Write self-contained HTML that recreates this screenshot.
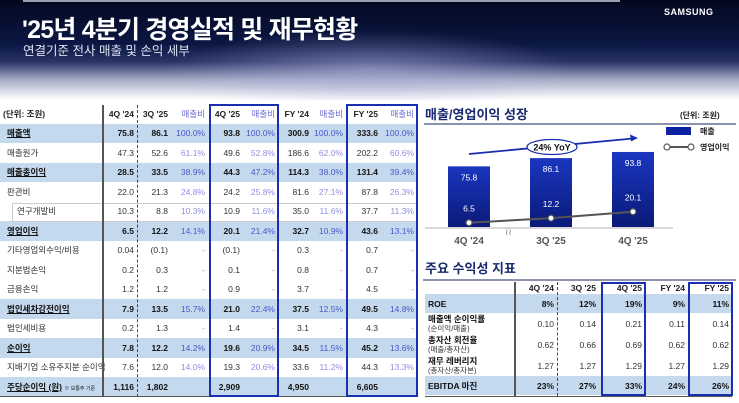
<!DOCTYPE html>
<html><head><meta charset="utf-8">
<style>
*{margin:0;padding:0;box-sizing:border-box}
body{width:739px;height:403px;overflow:hidden;background:#fff;font-family:"Liberation Sans","Noto Sans CJK KR",sans-serif;position:relative}
.hdr{position:absolute;left:0;top:0;width:739px;height:100px;background:
radial-gradient(ellipse 200px 40px at 370px 70px,rgba(170,175,220,.55),rgba(0,0,0,0)),
linear-gradient(to bottom,#040820 0,#0b1744 45%,#2a3566 62%,#a8adc8 80%,#fff 100%)}
.t1{position:absolute;left:22px;top:10px;color:#fff;font-size:25px;font-weight:bold;letter-spacing:-0.8px}
.t2{position:absolute;left:23px;top:40px;color:#dfe2f0;font-size:12.5px}
.logo{position:absolute;left:664px;top:7px;color:#fff;font-size:9px;font-weight:bold;letter-spacing:0.5px}
table{border-collapse:collapse;table-layout:fixed;position:absolute}
td{font-size:8.5px;color:#333;text-align:right;padding-right:3px;white-space:nowrap;overflow:visible}
td.l{text-align:left;padding-left:7px}
tr.h td{background:#c5d9ee;font-weight:bold;color:#111}
tr.h td.r{color:#4658c8;font-weight:normal}
td.r{color:#8f8fe0}
tr.hd td{font-weight:bold;color:#222;font-size:8.5px}
tr.hd td.r{color:#6a6ad0;font-weight:normal}
.box{position:absolute;border:2px solid #1a2fb0}
.ul{text-decoration:underline}
</style></head><body>
<div class="hdr">
<div style="position:absolute;left:23px;top:0;width:597px;height:2px;background:#9aa0b0"></div>
<div class="t1">'25년 4분기 경영실적 및 재무현황</div>
<div class="t2">연결기준 전사 매출 및 손익 세부</div>
<div class="logo">SAMSUNG</div>
</div>

<table style="left:0;top:105px;width:417px">
<colgroup><col style="width:103px"><col style="width:34px"><col style="width:34px"><col style="width:37px"><col style="width:35px"><col style="width:35px"><col style="width:34px"><col style="width:34px"><col style="width:35px"><col style="width:36px"></colgroup>
<tr class="hd" style="height:18.5px"><td class="l" style="padding-left:3px">(단위: 조원)</td><td>4Q '24</td><td>3Q '25</td><td class="r">매출비</td><td>4Q '25</td><td class="r">매출비</td><td>FY '24</td><td class="r">매출비</td><td>FY '25</td><td class="r">매출비</td></tr>
<tr class="h" style="height:19.5px"><td class="l ul">매출액</td><td>75.8</td><td>86.1</td><td class="r">100.0%</td><td>93.8</td><td class="r">100.0%</td><td>300.9</td><td class="r">100.0%</td><td>333.6</td><td class="r">100.0%</td></tr>
<tr style="height:19.5px"><td class="l">매출원가</td><td>47.3</td><td>52.6</td><td class="r">61.1%</td><td>49.6</td><td class="r">52.8%</td><td>186.6</td><td class="r">62.0%</td><td>202.2</td><td class="r">60.6%</td></tr>
<tr class="h" style="height:19.5px"><td class="l ul">매출총이익</td><td>28.5</td><td>33.5</td><td class="r">38.9%</td><td>44.3</td><td class="r">47.2%</td><td>114.3</td><td class="r">38.0%</td><td>131.4</td><td class="r">39.4%</td></tr>
<tr style="height:19.5px"><td class="l">판관비</td><td>22.0</td><td>21.3</td><td class="r">24.8%</td><td>24.2</td><td class="r">25.8%</td><td>81.6</td><td class="r">27.1%</td><td>87.8</td><td class="r">26.3%</td></tr>
<tr style="height:19.5px"><td class="l" style="padding-left:17px">연구개발비</td><td>10.3</td><td>8.8</td><td class="r">10.3%</td><td>10.9</td><td class="r">11.6%</td><td>35.0</td><td class="r">11.6%</td><td>37.7</td><td class="r">11.3%</td></tr>
<tr class="h" style="height:19.5px"><td class="l ul">영업이익</td><td>6.5</td><td>12.2</td><td class="r">14.1%</td><td>20.1</td><td class="r">21.4%</td><td>32.7</td><td class="r">10.9%</td><td>43.6</td><td class="r">13.1%</td></tr>
<tr style="height:19.5px"><td class="l">기타영업외수익/비용</td><td>0.04</td><td>(0.1)</td><td class="r">-</td><td>(0.1)</td><td class="r">-</td><td>0.3</td><td class="r">-</td><td>0.7</td><td class="r">-</td></tr>
<tr style="height:19.5px"><td class="l">지분법손익</td><td>0.2</td><td>0.3</td><td class="r">-</td><td>0.1</td><td class="r">-</td><td>0.8</td><td class="r">-</td><td>0.7</td><td class="r">-</td></tr>
<tr style="height:19.5px"><td class="l">금융손익</td><td>1.2</td><td>1.2</td><td class="r">-</td><td>0.9</td><td class="r">-</td><td>3.7</td><td class="r">-</td><td>4.5</td><td class="r">-</td></tr>
<tr class="h" style="height:19.5px"><td class="l ul">법인세차감전이익</td><td>7.9</td><td>13.5</td><td class="r">15.7%</td><td>21.0</td><td class="r">22.4%</td><td>37.5</td><td class="r">12.5%</td><td>49.5</td><td class="r">14.8%</td></tr>
<tr style="height:19.5px"><td class="l">법인세비용</td><td>0.2</td><td>1.3</td><td class="r">-</td><td>1.4</td><td class="r">-</td><td>3.1</td><td class="r">-</td><td>4.3</td><td class="r">-</td></tr>
<tr class="h" style="height:19.5px"><td class="l ul">순이익</td><td>7.8</td><td>12.2</td><td class="r">14.2%</td><td>19.6</td><td class="r">20.9%</td><td>34.5</td><td class="r">11.5%</td><td>45.2</td><td class="r">13.6%</td></tr>
<tr style="height:19.5px"><td class="l">지배기업 소유주지분 순이익</td><td>7.6</td><td>12.0</td><td class="r">14.0%</td><td>19.3</td><td class="r">20.6%</td><td>33.6</td><td class="r">11.2%</td><td>44.3</td><td class="r">13.3%</td></tr>
<tr class="h" style="height:19.5px"><td class="l"><span class="ul">주당순이익 (원)</span> <span style="font-size:5px;font-weight:normal">※ 보통주 기준</span></td><td>1,116</td><td>1,802</td><td class="r"></td><td>2,909</td><td class="r"></td><td>4,950</td><td class="r"></td><td>6,605</td><td class="r"></td></tr>
</table>
<div style="position:absolute;left:12px;top:203px;width:405px;height:19px;border:1px solid #ccc;border-right:none"></div>
<div style="position:absolute;left:102px;top:105px;width:2px;height:292px;background:#555"></div>
<div style="position:absolute;left:137px;top:105px;width:0;height:292px;border-left:1px dashed #444"></div>
<div style="position:absolute;left:0;top:396px;width:417px;height:1px;background:#555"></div>
<div class="box" style="left:209px;top:104px;width:70px;height:293px"></div>
<div class="box" style="left:346px;top:104px;width:72px;height:293px"></div>

<!-- chart -->
<div style="position:absolute;left:425px;top:104px;font-size:13px;font-weight:bold;color:#1a2a70">매출/영업이익 성장</div>
<div style="position:absolute;left:680px;top:110px;font-size:8px;font-weight:bold;color:#222">(단위: 조원)</div>
<div style="position:absolute;left:424px;top:123px;width:312px;height:2px;background:#8a92b0"></div>
<svg id="chart" width="739" height="403" style="position:absolute;left:0;top:0">
<defs><linearGradient id="bg" x1="0" y1="0" x2="0" y2="1"><stop offset="0" stop-color="#1a36c0"/><stop offset="1" stop-color="#0a1a78"/></linearGradient></defs>
</svg>

<!-- right table -->
<div style="position:absolute;left:425px;top:258px;font-size:13px;font-weight:bold;color:#1a2a70">주요 수익성 지표</div>
<div style="position:absolute;left:423px;top:279px;width:313px;height:2px;background:#8a92b0"></div>
<table style="left:425px;top:282px;width:307px">
<colgroup><col style="width:90px"><col style="width:42px"><col style="width:42px"><col style="width:46px"><col style="width:43px"><col style="width:44px"></colgroup>
<tr class="hd" style="height:12px"><td class="l" style="padding-left:3px"></td><td>4Q '24</td><td>3Q '25</td><td>4Q '25</td><td>FY '24</td><td>FY '25</td></tr>
<tr class="h" style="height:19px"><td class="l" style="padding-left:3px">ROE</td><td>8%</td><td>12%</td><td>19%</td><td>9%</td><td>11%</td></tr>
<tr style="height:21px"><td class="l" style="padding-left:3px;line-height:9px"><b style="color:#111">매출액 순이익률</b><br><span style="font-size:7.5px">(순이익/매출)</span></td><td>0.10</td><td>0.14</td><td>0.21</td><td>0.11</td><td>0.14</td></tr>
<tr style="height:21px"><td class="l" style="padding-left:3px;line-height:9px"><b style="color:#111">총자산 회전율</b><br><span style="font-size:7.5px">(매출/총자산)</span></td><td>0.62</td><td>0.66</td><td>0.69</td><td>0.62</td><td>0.62</td></tr>
<tr style="height:21px"><td class="l" style="padding-left:3px;line-height:9px"><b style="color:#111">재무 레버리지</b><br><span style="font-size:7.5px">(총자산/총자본)</span></td><td>1.27</td><td>1.27</td><td>1.29</td><td>1.27</td><td>1.29</td></tr>
<tr class="h" style="height:19px"><td class="l" style="padding-left:3px">EBITDA 마진</td><td>23%</td><td>27%</td><td>33%</td><td>24%</td><td>26%</td></tr>
</table>
<div style="position:absolute;left:514px;top:282px;width:2px;height:114px;background:#555"></div>
<div style="position:absolute;left:557px;top:282px;height:114px;border-left:1px dashed #444"></div>
<div style="position:absolute;left:425px;top:396px;width:307px;height:1px;background:#555"></div>
<div class="box" style="left:601px;top:282px;width:45px;height:114px"></div>
<div class="box" style="left:688px;top:282px;width:45px;height:114px"></div>

<script>
const categories = ["4Q '24","3Q '25","4Q '25"];
const sales = [75.8, 86.1, 93.8];
const opIncome = [6.5, 12.2, 20.1];
const svg = document.getElementById('chart');
const NS = 'http://www.w3.org/2000/svg';
const base = 227, k = 0.8;
const xc = i => 469 + i * 82;
const y = v => base - v * k;
const yl = v => base + 1 - v * 0.81;
function mk(tag, at, txt){const e=document.createElementNS(NS,tag);for(const a in at)e.setAttribute(a,at[a]);if(txt!==undefined)e.textContent=txt;svg.appendChild(e);return e;}
let ax = mk('line',{x1:425,y1:base+1,x2:673,y2:base+1,stroke:'#ccc','stroke-width':1.5});


sales.forEach((v,i)=>{
  const r = mk('rect',{x:xc(i)-21,y:y(v),width:42,height:v*k,fill:'url(#bg)'});
  
  
  const t = mk('text',{x:xc(i),y:y(v)+14,'text-anchor':'middle','font-size':8.5,fill:'#fff'},v.toFixed(1));
  
  
  const c = mk('text',{x:xc(i),y:244,'text-anchor':'middle','font-size':10,'font-weight':'bold',fill:'#555'},categories[i]);
  
  
});
const pts = opIncome.map((v,i)=>xc(i)+','+yl(v)).join(' ');
const pl = mk('polyline',{points:pts,fill:'none',stroke:'#555','stroke-width':2});


opIncome.forEach((v,i)=>{
  const c = mk('circle',{cx:xc(i),cy:yl(v),r:3,fill:'#fff',stroke:'#555','stroke-width':1.2});
  
  
  const t = mk('text',{x:xc(i),y:yl(v)-11,'text-anchor':'middle','font-size':8.5,fill:'#fff'},v.toFixed(1));
  
  
});
mk('text',{x:505,y:235,'font-size':9,fill:'#777'},'≀≀');
mk('line',{x1:469,y1:154,x2:633,y2:138.5,stroke:'#1a2fb0','stroke-width':1.8});
mk('polygon',{points:'638,138 630,134.5 631,141.5',fill:'#1a2fb0'});
const el = mk('ellipse',{cx:552,cy:147,rx:25,ry:7.5,fill:'#fff',stroke:'#1a2fb0','stroke-width':1.2});


mk('text',{x:552,y:150.5,'text-anchor':'middle','font-size':9,'font-weight':'bold',fill:'#111'},'24% YoY');
const lr = mk('rect',{x:666,y:127,width:25,height:8,fill:'#0d22a0'});


mk('text',{x:700,y:134,'font-size':8,'font-weight':'bold',fill:'#222'},'매출');
const ll = mk('line',{x1:667,y1:147,x2:691,y2:147,stroke:'#555','stroke-width':2});


mk('circle',{cx:667,cy:147,r:3,fill:'#fff',stroke:'#555','stroke-width':1.2});
mk('circle',{cx:691,cy:147,r:3,fill:'#fff',stroke:'#555','stroke-width':1.2});
mk('text',{x:700,y:150,'font-size':8,'font-weight':'bold',fill:'#222'},'영업이익');
</script>
</body></html>
